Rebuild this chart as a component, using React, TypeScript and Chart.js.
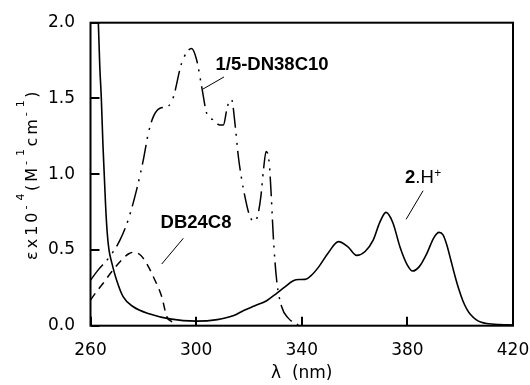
import React, { useEffect, useRef } from 'react';
import { Chart, registerables } from 'chart.js';

Chart.register(...registerables);

// ---- data ----
const xMin = 260;
const xMax = 420;
const xStep = 40;
const yMin = 0;
const yMax = 2.0;
const yStep = 0.5;

// 2.H+ (solid)
const hWave = [262.7, 263.5, 264.1, 264.7, 265.2, 265.7, 266.3, 267.0, 268.0, 269.9, 272.4, 276.2, 282.5, 290, 300, 308, 314, 318, 322, 326.7, 330.5, 333.5, 336.8, 339, 341.3, 343.5, 346.5, 350, 353.9, 357.5, 360.8, 364, 367.1, 369.5, 371.9, 374.5, 377.2, 380, 382.0, 384.5, 387.4, 390, 392.0, 393.5, 395, 396.5, 398, 399.5, 401, 402.5, 404, 406, 408, 410, 415, 420];
const hEps = [2.15, 1.72, 1.5, 1.2, 1.0, 0.8, 0.62, 0.5, 0.42, 0.30, 0.19, 0.125, 0.077, 0.045, 0.03, 0.04, 0.065, 0.1, 0.13, 0.165, 0.214, 0.255, 0.297, 0.305, 0.306, 0.33, 0.39, 0.48, 0.555, 0.52, 0.464, 0.49, 0.566, 0.68, 0.748, 0.68, 0.52, 0.4, 0.361, 0.39, 0.478, 0.58, 0.616, 0.6, 0.53, 0.43, 0.33, 0.24, 0.165, 0.11, 0.072, 0.04, 0.022, 0.014, 0.007, 0.005];

// 1/5-DN38C10 (dash-dot-dot)
const dnWave = [260, 263, 266.8, 271.2, 274.3, 277.5, 280, 281.9, 283.8, 286.3, 289.5, 291.4, 294.5, 298.3, 300.2, 302.1, 304.0, 306.5, 309.0, 310.3, 311.6, 312.8, 313.5, 314.7, 316, 317.3, 318.5, 320, 321.9, 323.2, 324.5, 325.5, 326.5, 327.7, 328.4, 329.3, 330.5, 332.4, 334.9, 338.7];
const dnEps = [0.30, 0.37, 0.445, 0.566, 0.70, 0.90, 1.094, 1.27, 1.38, 1.435, 1.45, 1.51, 1.732, 1.83, 1.754, 1.578, 1.402, 1.358, 1.325, 1.325, 1.424, 1.494, 1.49, 1.336, 1.115, 0.962, 0.85, 0.74, 0.686, 0.72, 0.85, 1.028, 1.15, 1.072, 0.874, 0.566, 0.30, 0.125, 0.05, 0.005];

// DB24C8 (dashed)
const dbWave = [260, 262.5, 264.8, 268, 271.8, 274.5, 276.5, 279, 281.3, 283.8, 287, 288.9, 290.5, 292.7];
const dbEps = [0.17, 0.23, 0.28, 0.356, 0.434, 0.475, 0.485, 0.465, 0.41, 0.323, 0.19, 0.06, 0.03, 0.016];

// annotation anchors (data units)
const dnLabel = { text: '1/5-DN38C10', x: 328.75, y: 1.721 };
const dnLeader = [302.6, 1.562, 310.57, 1.642];
const dbLabel = { text: 'DB24C8', x: 299.96, y: 0.678 };
const dbLeader = [295.15, 0.577, 286.97, 0.407];
const hLabel = { x: 379.13, y: 0.9835 };
const hLeader = [385.95, 0.891, 379.51, 0.702];

const xTitle = 'λ  (nm)';
// y title parts: [text, kind]  n = normal, m = raised minus, s = superscript
const yTitleParts: [string, string][] = [
  ['εx10', 'n'], ['-', 'm'], ['4', 's'], ['(M', 'n'], ['-', 'm'], ['1', 's'],
  ['cm', 'n'], ['-', 'm'], ['1', 's'], [')', 'n'],
];

const toPts = (xs: number[], ys: number[]) => xs.map((x, i) => ({ x, y: ys[i] }));

const TICK_FONT = 'DejaVu Sans';

const annotPlugin = {
  id: 'annot',
  afterDatasetsDraw(chart: any) {
    const { ctx, chartArea: a, scales } = chart;
    const xs = scales.x;
    const ys = scales.y;
    const px = (v: number) => xs.getPixelForValue(v);
    const py = (v: number) => ys.getPixelForValue(v);
    ctx.save();
    // frame
    ctx.strokeStyle = '#000';
    ctx.lineWidth = 2;
    ctx.strokeRect(a.left, a.top, a.right - a.left, a.bottom - a.top);

    // leaders
    ctx.lineWidth = 1;
    const leader = (l: number[]) => {
      ctx.beginPath();
      ctx.moveTo(px(l[0]), py(l[1]));
      ctx.lineTo(px(l[2]), py(l[3]));
      ctx.stroke();
    };
    leader(dnLeader);
    leader(dbLeader);
    leader(hLeader);

    ctx.fillStyle = '#000';
    ctx.textBaseline = 'middle';
    ctx.textAlign = 'center';
    ctx.font = 'bold 18.5px "Liberation Sans", Arial, sans-serif';
    ctx.fillText(dnLabel.text, px(dnLabel.x), py(dnLabel.y));
    ctx.fillText(dbLabel.text, px(dbLabel.x), py(dbLabel.y));

    // 2.H+
    ctx.textAlign = 'left';
    ctx.textBaseline = 'alphabetic';
    let hx = px(hLabel.x);
    const hy = py(hLabel.y) + 6.5;
    ctx.font = 'bold 18.5px "Liberation Sans", Arial, sans-serif';
    ctx.fillText('2', hx, hy);
    hx += ctx.measureText('2').width;
    ctx.font = '18.5px "Liberation Sans", Arial, sans-serif';
    ctx.fillText('.H', hx, hy);
    hx += ctx.measureText('.H').width + 0.5;
    ctx.font = '12px "Liberation Sans", Arial, sans-serif';
    ctx.fillText('+', hx, hy - 6);

    // y title
    const nFont = `16px "${TICK_FONT}", sans-serif`;
    const sFont = `11px "${TICK_FONT}", sans-serif`;
    const spacing = 3;
    const measure = () => {
      let w = 0;
      for (const [t, k] of yTitleParts) {
        ctx.font = k === 'n' ? nFont : sFont;
        for (const ch of t) w += ctx.measureText(ch).width + (k === 'n' ? spacing : 2.5);
        if (k === 'm') w += 2.5;
      }
      return w;
    };
    const total = measure();
    const cy = (a.top + a.bottom) / 2;
    ctx.translate(36.5, cy + total / 2);
    ctx.rotate(-Math.PI / 2);
    let tx = 0;
    for (const [t, k] of yTitleParts) {
      ctx.font = k === 'n' ? nFont : sFont;
      const raise = k === 'n' ? 0 : k === 'm' ? 8 : 13;
      for (const ch of t) {
        ctx.fillText(ch, tx, -raise);
        tx += ctx.measureText(ch).width + (k === 'n' ? spacing : 2.5);
      }
      if (k === 'm') tx += 2.5;
    }
    ctx.restore();
  },
};

const zeroPad = (s: any) => {
  s.paddingLeft = 0;
  s.paddingRight = 0;
  s.paddingTop = 0;
  s.paddingBottom = 0;
};

export default function App() {
  const ref = useRef<HTMLCanvasElement | null>(null);
  useEffect(() => {
    if (!ref.current) return;
    const chart = new Chart(ref.current, {
      type: 'line',
      data: {
        datasets: [
          {
            label: '2.H+',
            data: toPts(hWave, hEps),
            borderColor: '#000',
            borderWidth: 1.6,
            pointRadius: 0,
            cubicInterpolationMode: 'monotone',
            fill: false,
          },
          {
            label: '1/5-DN38C10',
            data: toPts(dnWave, dnEps),
            borderColor: '#000',
            borderWidth: 1.5,
            borderDash: [20, 6, 2, 7, 2, 6],
            pointRadius: 0,
            cubicInterpolationMode: 'monotone',
            fill: false,
          },
          {
            label: 'DB24C8',
            data: toPts(dbWave, dbEps),
            borderColor: '#000',
            borderWidth: 1.5,
            borderDash: [8, 6],
            pointRadius: 0,
            cubicInterpolationMode: 'monotone',
            fill: false,
          },
        ],
      },
      options: {
        responsive: false,
        animation: false,
        devicePixelRatio: 1,
        layout: { padding: { left: 0, right: 17, top: 22.7, bottom: 0 } },
        plugins: { legend: { display: false }, tooltip: { enabled: false } },
        scales: {
          x: {
            type: 'linear',
            min: xMin,
            max: xMax,
            afterFit: (s: any) => { s.height = 59.3; zeroPad(s); },
            ticks: {
              stepSize: xStep,
              color: '#000',
              font: { family: TICK_FONT, size: 17 },
              padding: 24,
              maxRotation: 0,
              callback: (v: any) => String(v),
            },
            grid: { drawOnChartArea: false, drawTicks: true, tickLength: -9, color: '#000', lineWidth: 2 },
            border: { display: false },
            title: {
              display: true,
              text: xTitle,
              color: '#000',
              font: { family: TICK_FONT, size: 17 },
              padding: { top: 0, bottom: 1 },
            },
          },
          y: {
            type: 'linear',
            min: yMin,
            max: yMax,
            afterFit: (s: any) => { s.width = 90.5; zeroPad(s); },
            ticks: {
              stepSize: yStep,
              color: '#000',
              font: { family: TICK_FONT, size: 17 },
              padding: 24.5,
              callback: (v: any) => Number(v).toFixed(1),
            },
            grid: { drawOnChartArea: false, drawTicks: true, tickLength: -9, color: '#000', lineWidth: 2 },
            border: { display: false },
          },
        },
      },
      plugins: [annotPlugin],
    } as any);
    return () => chart.destroy();
  }, []);
  return (
    <div style={{ position: 'fixed', left: 0, top: 0, width: 530, height: 385, background: '#fff' }}>
      <canvas ref={ref} width={530} height={385} style={{ width: 530, height: 385, display: 'block' }} />
    </div>
  );
}
